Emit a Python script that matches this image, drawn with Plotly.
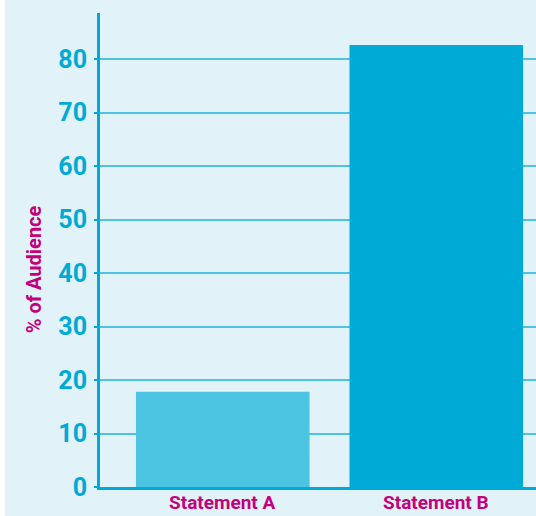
import plotly.graph_objects as go

categories = ["Statement A", "Statement B"]
values = [17.8, 82.6]
bar_colors = ["#4BC5E1", "#00AAD6"]
y_ticks = [0, 10, 20, 30, 40, 50, 60, 70, 80]

BG = "#E1F2F9"
CYAN = "#00AAD6"
MAGENTA = "#C4007C"

fig = go.Figure(
    go.Bar(
        x=[0, 1],
        y=values,
        marker=dict(color=bar_colors, line=dict(width=0)),
        width=0.813,
        hoverinfo="skip",
    )
)

# category labels sit flush against the bottom edge of the figure
category_labels = [
    dict(
        text=f"<b>{c}</b>",
        xref="x",
        yref="paper",
        x=i,
        y=-28 / 474,
        yanchor="bottom",
        showarrow=False,
        borderpad=0,
        font=dict(size=19, color=MAGENTA, family="Roboto"),
    )
    for i, c in enumerate(categories)
]

fig.update_layout(
    width=536,
    height=516,
    margin=dict(l=100, r=0, t=13, b=29),
    paper_bgcolor=BG,
    plot_bgcolor=BG,
    showlegend=False,
    font=dict(family="Roboto", color=CYAN),
    xaxis=dict(
        range=[-0.575, 1.467],
        tickvals=[0, 1],
        showticklabels=False,
        showgrid=False,
        zeroline=False,
        showline=True,
        linecolor=CYAN,
        linewidth=3,
        ticks="",
        automargin=False,
        fixedrange=True,
    ),
    yaxis=dict(
        range=[0, 88.6],
        tickvals=y_ticks,
        ticktext=[f"<b>{t}</b>" for t in y_ticks],
        tickfont=dict(size=25, color=CYAN, family="Roboto"),
        showgrid=True,
        gridcolor="#4CC4E0",
        gridwidth=2,
        zeroline=False,
        showline=True,
        linecolor=CYAN,
        linewidth=3,
        ticks="outside",
        ticklen=3,
        tickcolor=CYAN,
        tickwidth=2,
        ticklabelstandoff=2,
        automargin=False,
        fixedrange=True,
    ),
    annotations=[
        dict(
            text="<b>% of Audience</b>",
            textangle=-90,
            xref="paper",
            yref="paper",
            x=-0.183,
            y=0.46,
            showarrow=False,
            font=dict(size=20, color=MAGENTA, family="Roboto"),
        )
    ]
    + category_labels,
    shapes=[
        dict(
            type="rect",
            xref="paper",
            yref="paper",
            x0=-100 / 436,
            x1=-95 / 436,
            y0=-29 / 474,
            y1=487 / 474,
            fillcolor="white",
            line=dict(width=0),
            layer="above",
        )
    ],
)

fig.write_html("out.html")
